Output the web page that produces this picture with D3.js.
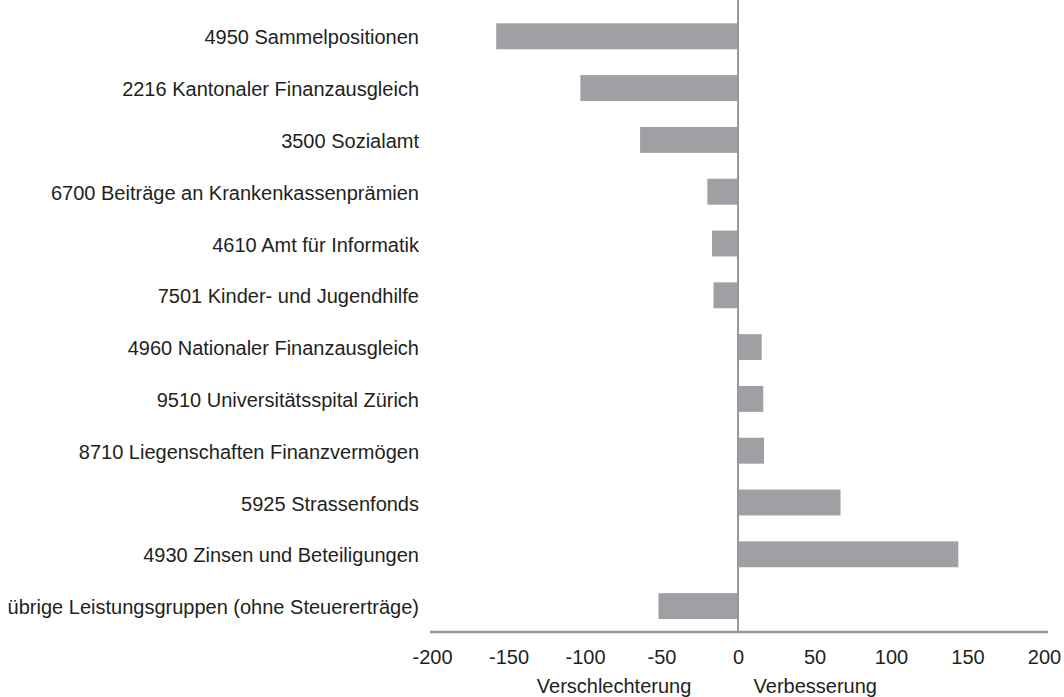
<!DOCTYPE html>
<html>
<head>
<meta charset="utf-8">
<script src="https://cdn.jsdelivr.net/npm/d3@7"></script>
<style>
  body { margin: 0; background: #fff; }
  text { font-family: "Liberation Sans", Arial, Helvetica, sans-serif; fill: #231f20; }
</style>
</head>
<body>
<div id="chart"></div>
<script>

var categories = [
  "4950 Sammelpositionen",
  "2216 Kantonaler Finanzausgleich",
  "3500 Sozialamt",
  "6700 Beiträge an Krankenkassenprämien",
  "4610 Amt für Informatik",
  "7501 Kinder- und Jugendhilfe",
  "4960 Nationaler Finanzausgleich",
  "9510 Universitätsspital Zürich",
  "8710 Liegenschaften Finanzvermögen",
  "5925 Strassenfonds",
  "4930 Zinsen und Beteiligungen",
  "übrige Leistungsgruppen (ohne Steuererträge)"
];
var values = [-158, -103, -64, -20, -17, -16, 15.5, 16.5, 17, 67, 144, -52];
var ticks = [-200, -150, -100, -50, 0, 50, 100, 150, 200];
var axisTitles = ["Verschlechterung", "Verbesserung"];

var width = 1064,
height = 697;

var svg = d3.select("#chart").append("svg")
.attr("width", width)
.attr("height", height);

var x = d3.scaleLinear().domain([-200, 200]).range([432, 1044]);

var y = d3.scaleBand()
.domain(categories)
.range([10.4, 632])
.paddingInner(0.5)
.paddingOuter(0.25);

var axisY = 632,
grey = "#a0a0a4",
fontSize = "20px";

// bars
svg.selectAll("rect.bar")
.data(values)
.enter().append("rect")
.attr("class", "bar")
.attr("x", function(d){return x(Math.min(0, d))})
.attr("y", function(d, i){return y(categories[i])})
.attr("width", function(d){return Math.abs(x(d) - x(0))})
.attr("height", y.bandwidth())
.attr("fill", grey);

// category labels
svg.selectAll("text.cat")
.data(categories)
.enter().append("text")
.attr("class", "cat")
.attr("x", 419)
.attr("y", function(d){return y(d) + y.bandwidth() / 2 + 8})
.attr("text-anchor", "end")
.style("font-size", fontSize)
.text(function(d){return d});

// zero line
svg.append("line")
.attr("x1", x(0)).attr("x2", x(0))
.attr("y1", 0).attr("y2", axisY)
.attr("stroke", "#98989c")
.attr("stroke-width", 2);

// x axis
var axis = svg.append("g")
.attr("transform", "translate(0," + axisY + ")")
.call(d3.axisBottom(x).tickValues(ticks).tickSize(0).tickPadding(0).tickFormat(function(d){return String(d)}));

axis.select(".domain")
.attr("d", "M" + (x(-200) - 2) + ",0H" + (x(200) + 4))
.attr("stroke", "#98989c")
.attr("stroke-width", 2.5);

axis.selectAll(".tick text")
.attr("y", 32)
.attr("dy", null)
.style("font-size", fontSize)
.style("font-family", "'Liberation Sans', Arial, sans-serif")
.attr("fill", "#231f20");

// axis titles
svg.selectAll("text.ttl")
.data(axisTitles)
.enter().append("text")
.attr("class", "ttl")
.attr("x", function(d, i){return i == 0 ? x(-81) : x(50.5)})
.attr("y", 693)
.attr("text-anchor", "middle")
.style("font-size", fontSize)
.text(function(d){return d});

</script>
</body>
</html>
